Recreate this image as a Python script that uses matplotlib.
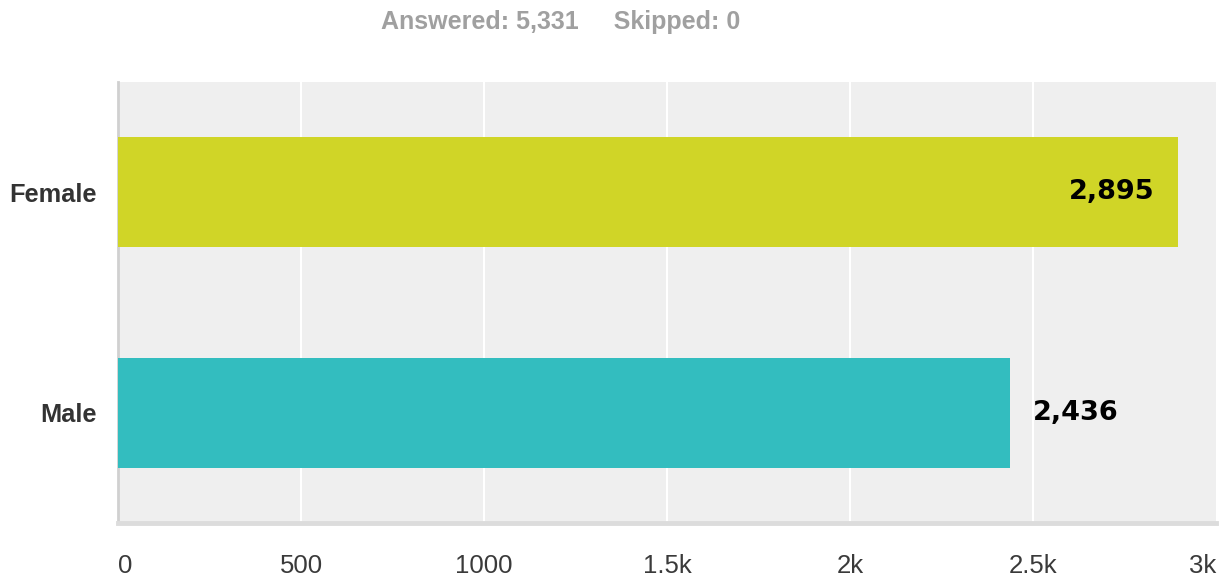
import matplotlib
matplotlib.use("Agg")
import matplotlib.pyplot as plt
from matplotlib.ticker import FixedLocator

categories = ["Female", "Male"]
values = [2895, 2436]
value_labels = ["2,895", "2,436"]
bar_colors = ["#d0d527", "#33bdbf"]
xticks = [0, 500, 1000, 1500, 2000, 2500, 3000]
xtick_labels = ["0", "500", "1000", "1.5k", "2k", "2.5k", "3k"]
title_text = "Answered: 5,331     Skipped: 0"

W, H = 1232, 578
fig = plt.figure(figsize=(W / 100, H / 100), dpi=100)
left, right, top, bottom = 118, 1216, 82, 523
ax = fig.add_axes([left / W, 1 - bottom / H, (right - left) / W, (bottom - top) / H])
ax.set_facecolor("#efefef")

ypos = list(range(len(categories)))
ax.barh(ypos, values, height=0.5, color=bar_colors, zorder=3)
ax.set_xlim(0, 3000)
ax.set_ylim(1.5, -0.5)

# value labels
for i, (v, lab) in enumerate(zip(values, value_labels)):
    if i == 0:
        ax.annotate(lab, (v, i), xytext=(-16.5, 0), textcoords="offset points",
                    ha="right", va="center", fontsize=19.5, fontweight="bold",
                    family="DejaVu Sans", color="#000000", zorder=4)
    else:
        ax.annotate(lab, (v, i), xytext=(17, 0), textcoords="offset points",
                    ha="left", va="center", fontsize=19.5, fontweight="bold",
                    family="DejaVu Sans", color="#000000", zorder=4)

# grid
ax.xaxis.set_major_locator(FixedLocator(xticks))
for x in xticks[1:-1]:
    ax.axvline(x, color="white", lw=1.5, zorder=1)
ax.set_xticklabels(xtick_labels, fontsize=18.5, family="Liberation Sans", color="#3a3a3a")
ax.tick_params(axis="x", length=0, pad=22)
labs = ax.get_xticklabels()
labs[0].set_ha("left")
labs[-1].set_ha("right")

ax.set_yticks(ypos)
ax.set_yticklabels(categories, fontsize=18.3, fontweight="bold", family="Liberation Sans", color="#333333")
ax.tick_params(axis="y", length=0, pad=15)

for s in ["top", "right"]:
    ax.spines[s].set_visible(False)
ax.spines["left"].set_color("#d0d0d0")
ax.spines["left"].set_linewidth(2)
ax.spines["bottom"].set_color("#dcdcdc")
ax.spines["bottom"].set_linewidth(3.5)

fig.text(561 / W, 1 - 22.5 / H, title_text, ha="center", va="center", fontsize=18,
         fontweight="bold", family="Liberation Sans", color="#a0a0a0")

fig.savefig("out.png", dpi=100)
